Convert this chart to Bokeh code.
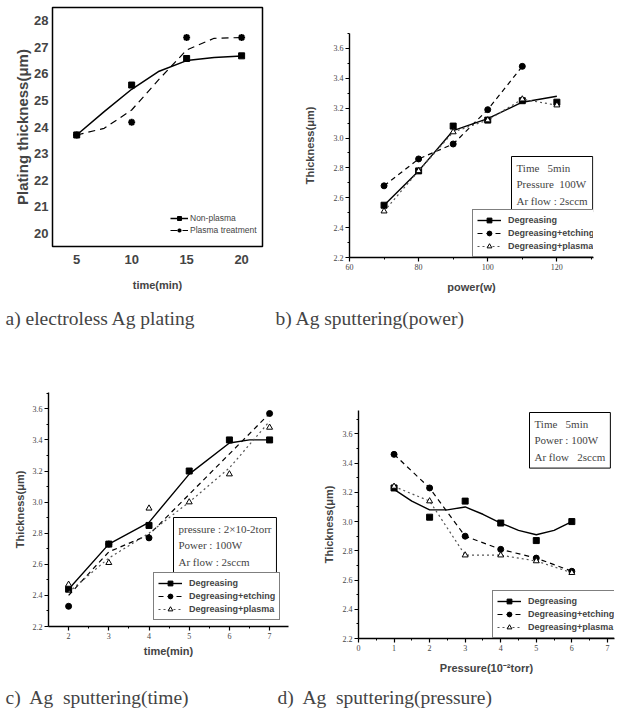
from bokeh.plotting import figure
from bokeh.layouts import column, row
from bokeh.models import Range1d, Legend, LegendItem, Label, FixedTicker, PrintfTickFormatter
from bokeh.embed import file_html
from bokeh.resources import INLINE

# ---------------- data ----------------
# a) electroless Ag plating
a_time = [5, 10, 15, 20]
a_nonplasma = [23.7, 25.58, 26.58, 26.68]
a_plasma = [23.7, 24.18, 27.37, 27.37]
a_fit_time = [5, 7.5, 10, 12.5, 15, 17.5, 20]
a_nonplasma_fit = [23.7, 24.58, 25.42, 26.1, 26.5, 26.62, 26.67]
a_plasma_fit = [23.7, 23.95, 24.64, 25.8, 26.9, 27.34, 27.37]

# b) Ag sputtering (power)
b_power = [70, 80, 90, 100, 110, 120]
b_degreasing = [2.55, 2.78, 3.08, 3.12, 3.25, 3.24]
b_degreasing_fit = [2.55, 2.78, 3.05, 3.13, 3.24, 3.28]
b_plasma = [2.51, 2.78, 3.04, 3.12, 3.26, 3.22]
b_etch_power = [70, 80, 90, 100, 110]
b_etching = [2.68, 2.86, 2.96, 3.19, 3.48]

# c) Ag sputtering (time)
c_time = [2, 3, 4, 5, 6, 7]
c_degreasing = [2.44, 2.73, 2.85, 3.20, 3.40, 3.40]
c_fit_time = [2, 3, 4, 5, 6, 6.5, 7]
c_degreasing_fit = [2.44, 2.73, 2.87, 3.18, 3.38, 3.40, 3.40]
c_plasma = [2.47, 2.61, 2.96, 3.00, 3.18, 3.48]
c_plasma_fit = [2.42, 2.64, 2.80, 3.00, 3.22, 3.52]
c_etch_time = [2, 3, 4, 7]
c_etching = [2.33, 2.73, 2.77, 3.57]
c_etching_fit = [2.40, 2.68, 2.79, 3.57]

# d) Ag sputtering (pressure)
d_pressure = [1, 2, 3, 4, 5, 6]
d_degreasing = [3.23, 3.03, 3.14, 2.99, 2.87, 3.00]
d_etching = [3.46, 3.23, 2.90, 2.81, 2.75, 2.66]
d_plasma = [3.24, 3.14, 2.77, 2.77, 2.73, 2.65]
d_fit_pressure = [1, 1.5, 2, 2.5, 3, 3.5, 4, 4.5, 5, 5.5, 6]
d_degreasing_fit = [3.22, 3.14, 3.08, 3.08, 3.10, 3.05, 2.99, 2.94, 2.91, 2.94, 3.00]

thick_ticks = [2.2, 2.4, 2.6, 2.8, 3.0, 3.2, 3.4, 3.6]
thick_minor = [2.3, 2.5, 2.7, 2.9, 3.1, 3.3, 3.5, 3.7]

captions_top = ["a) electroless Ag plating", "b) Ag sputtering(power)"]
captions_bottom = ["c)\u00a0 Ag\u00a0 sputtering(time)", "d)\u00a0 Ag\u00a0 sputtering(pressure)"]

SANS = "Liberation Sans"
SERIF = "Liberation Serif"


def base_fig(xr, yr, w, h, bl, br, bt, bb):
    p = figure(width=w, height=h, x_range=Range1d(*xr), y_range=Range1d(*yr), title=None,
               min_border_left=bl, min_border_right=br, min_border_top=bt, min_border_bottom=bb,
               output_backend="svg", toolbar_location=None, frame_align=False)
    p.grid.visible = False
    p.background_fill_color = "white"
    p.border_fill_color = "white"
    return p


def style_axes(p, xt, xm, yt, ym, xlabel, ylabel, xstand, ystand):
    p.xaxis.ticker = FixedTicker(ticks=xt, minor_ticks=xm)
    p.yaxis.ticker = FixedTicker(ticks=yt, minor_ticks=ym)
    p.yaxis.formatter = PrintfTickFormatter(format="%.1f")
    p.outline_line_color = None
    for ax in p.axis:
        ax.axis_line_color = "black"
        ax.axis_line_width = 1.4
        ax.major_tick_out = 4
        ax.major_tick_in = 0
        ax.minor_tick_out = 2
        ax.minor_tick_in = 0
        ax.major_tick_line_width = 1.2
        ax.major_label_text_font = SERIF
        ax.major_label_text_font_size = "8px"
        ax.major_label_standoff = 2
        ax.axis_label_text_font = SANS
        ax.axis_label_text_font_style = "bold"
        ax.axis_label_text_font_size = "11px"
    p.xaxis.axis_label = xlabel
    p.yaxis.axis_label = ylabel
    p.xaxis.axis_label_standoff = xstand
    p.yaxis.axis_label_standoff = ystand


def add_legend(p, items, loc):
    lg = Legend(items=items, location=loc, padding=4, spacing=1, glyph_width=24, glyph_height=12,
                label_height=12, label_standoff=7, label_text_font=SANS, label_text_font_style="bold",
                label_text_font_size="9px", border_line_color="black", border_line_width=1,
                background_fill_color="white", background_fill_alpha=1.0)
    p.add_layout(lg)


def add_info(p, text, x, y):
    lab = Label(x=x, y=y, x_units="screen", y_units="screen", text=text, text_font=SERIF,
                text_font_size="11px", text_align="left", text_baseline="top", text_line_height=1.4,
                padding=5, border_line_color="black", border_line_width=1,
                background_fill_color="white")
    p.add_layout(lab)


def three_series(p, x1, y1, fx1, fy1, x2, y2, fx2, fy2, x3, y3, fx3, fy3):
    l1 = p.line(fx1, fy1, line_color="black", line_width=1.4)
    s1 = p.scatter(x1, y1, marker="square", size=6, color="black")
    l2 = p.line(fx2, fy2, line_color="black", line_width=1.2, line_dash="5 4")
    s2 = p.scatter(x2, y2, marker="circle", size=6, color="black")
    l3 = p.line(fx3, fy3, line_color="#555555", line_width=1.2, line_dash="2 3")
    s3 = p.scatter(x3, y3, marker="triangle", size=6, fill_color="white", line_color="black", line_width=1)
    return [LegendItem(label="Degreasing", renderers=[l1, s1]),
            LegendItem(label="Degreasing+etching", renderers=[l2, s2]),
            LegendItem(label="Degreasing+plasma", renderers=[l3, s3])]


# ---------------- panel a ----------------
pa = base_fig((2.8, 21.9), (19.5, 28.5), 298, 300, 52, 36, 7, 54)
pa.outline_line_color = "black"
pa.outline_line_width = 1.5
pa.xaxis.ticker = FixedTicker(ticks=a_time)
pa.yaxis.ticker = FixedTicker(ticks=[20, 21, 22, 23, 24, 25, 26, 27, 28])
for ax in pa.axis:
    ax.axis_line_color = None
    ax.major_tick_out = 0
    ax.major_tick_in = 0
    ax.minor_tick_out = 0
    ax.minor_tick_in = 0
    ax.major_label_text_font = SANS
    ax.major_label_text_font_style = "bold"
    ax.major_label_text_font_size = "13px"
    ax.major_label_standoff = 4
    ax.axis_label_text_font = SANS
    ax.axis_label_text_font_style = "bold"
pa.xaxis.major_label_standoff = 8
pa.xaxis.axis_label = "time(min)"
pa.xaxis.axis_label_text_font_size = "11px"
pa.xaxis.axis_label_standoff = 12
pa.yaxis.axis_label = "Plating thickness(μm)"
pa.yaxis.axis_label_text_font_size = "15px"
pa.yaxis.axis_label_standoff = 0

la1 = pa.line(a_fit_time, a_nonplasma_fit, line_color="black", line_width=1.5)
sa1 = pa.scatter(a_time, a_nonplasma, marker="square", size=6, color="black")
la2 = pa.line(a_fit_time, a_plasma_fit, line_color="black", line_width=1.2, line_dash="7 5")
sa2 = pa.scatter(a_time, a_plasma, marker="asterisk", size=7, line_color="black", line_width=2)
lega = Legend(items=[LegendItem(label="Non-plasma", renderers=[la1, sa1]),
                     LegendItem(label="Plasma treatment", renderers=[la2, sa2])],
              location=(118, 11), padding=0, spacing=2, glyph_width=18, glyph_height=10,
              label_height=10, label_standoff=2, label_text_font=SANS, label_text_font_size="8.5px",
              border_line_color=None, background_fill_alpha=0)
pa.add_layout(lega)

# ---------------- panel b ----------------
pb = base_fig((60, 130.6), (2.2, 3.7), 326, 300, 51, 31, 33, 43)
style_axes(pb, [60, 80, 100, 120], [70, 90, 110, 130], thick_ticks, thick_minor,
           "power(w)", "Thickness(μm)", 8, 15)
items_b = three_series(pb, b_power, b_degreasing, b_power, b_degreasing_fit,
                       b_etch_power, b_etching, b_etch_power, b_etching,
                       b_power, b_plasma, b_power, b_plasma)
add_info(pb, "Time\u00a0\u00a0 5min\nPressure\u00a0 100W\nAr flow : 2sccm", 162, 101)
add_legend(pb, items_b, (123, 0))

# ---------------- panel c ----------------
pc = base_fig((1.5, 7.47), (2.2, 3.705), 310, 340, 48, 22, 52, 54)
style_axes(pc, c_time, [2.5, 3.5, 4.5, 5.5, 6.5], thick_ticks, thick_minor,
           "time(min)", "Thickness(μm)", 3, 4)
items_c = three_series(pc, c_time, c_degreasing, c_fit_time, c_degreasing_fit,
                       c_etch_time, c_etching, c_etch_time, c_etching_fit,
                       c_time, c_plasma, c_time, c_plasma_fit)
add_info(pc, "pressure : 2×10-2torr\nPower : 100W\nAr flow : 2sccm", 125, 109)
add_legend(pc, items_c, (105, 6))

# ---------------- panel d ----------------
pd_ = base_fig((0, 7.2), (2.2, 3.76), 314, 340, 48, 10, 70, 42)
style_axes(pd_, [0, 1, 2, 3, 4, 5, 6, 7], [0.5, 1.5, 2.5, 3.5, 4.5, 5.5, 6.5], thick_ticks, thick_minor,
           "Pressure(10⁻²torr)", "Thickness(μm)", 8, 5)
items_d = three_series(pd_, d_pressure, d_degreasing, d_fit_pressure, d_degreasing_fit,
                       d_pressure, d_etching, d_pressure, d_etching,
                       d_pressure, d_plasma, d_pressure, d_plasma)
add_info(pd_, "Time\u00a0\u00a0 5min\nPower : 100W\nAr flow\u00a0\u00a0 2sccm", 171, 226)
add_legend(pd_, items_d, (134, 0))


# ---------------- captions ----------------
def caption_strip(texts, xs, h, ymid):
    c = figure(width=624, height=h, x_range=Range1d(0, 624), y_range=Range1d(0, h), title=None,
               min_border=0, output_backend="svg", toolbar_location=None, frame_align=False,
               x_axis_location=None, y_axis_location=None)
    c.outline_line_color = None
    c.grid.visible = False
    for t, x in zip(texts, xs):
        c.add_layout(Label(x=x, y=ymid, x_units="screen", y_units="screen", text=t,
                           text_font=SERIF, text_font_size="19.5px", text_baseline="middle"))
    return c


cap1 = caption_strip(captions_top, [5, 275], 40, 22)
cap2 = caption_strip(captions_bottom, [5, 277], 36, 19)

layout = column(row(pa, pb), cap1, row(pc, pd_), cap2)
open("out.html", "w").write(file_html(layout, INLINE))
